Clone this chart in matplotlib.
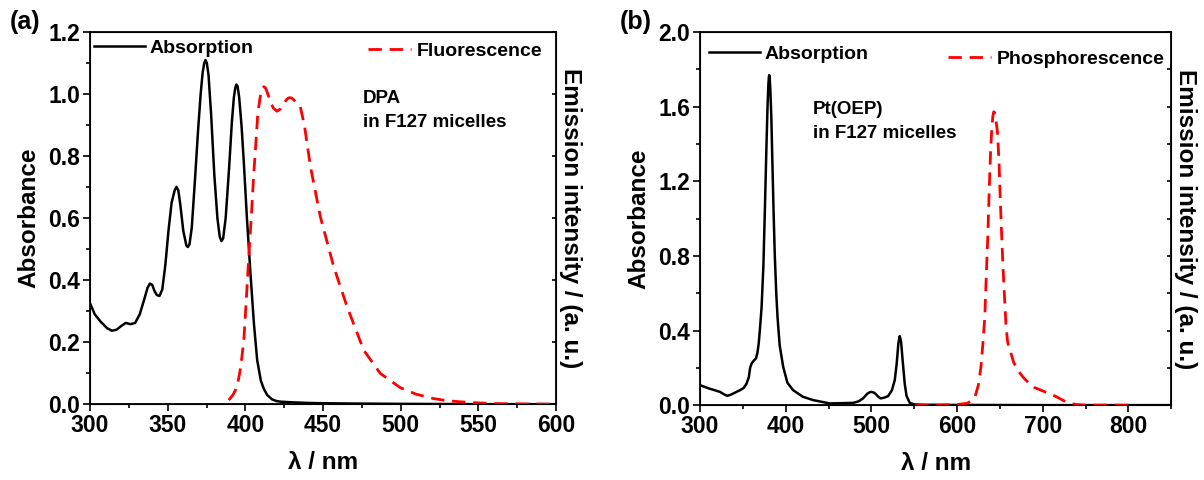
import matplotlib.pyplot as plt
from matplotlib.ticker import MultipleLocator

plt.rcParams['font.family'] = ['Liberation Sans', 'DejaVu Sans']
plt.rcParams['font.weight'] = 'bold'

# (a) DPA absorption
dpa_abs_x = [300, 303, 307, 311, 314, 317, 320, 323, 326, 329, 332, 335, 337, 338.5, 340,
             341.5, 343, 344.7, 346.5, 348.5, 350.5, 352.5, 354.5, 355.6, 356.8, 358.2,
             360, 362, 362.9, 364, 365.5, 367.5, 369.5, 371.2, 372.5, 373.5, 374.3, 375.2,
             376.3, 378, 380, 382, 383.5, 384.6, 385.7, 387.3, 389.5, 391.3, 392.6, 393.5,
             394.2, 395, 396, 397.5, 399, 401, 403.3, 405.5, 407.6, 410, 412, 414, 417, 420,
             422.6, 430, 440, 450, 470, 500, 550, 600]
dpa_abs_y = [0.325, 0.29, 0.265, 0.245, 0.237, 0.24, 0.252, 0.262, 0.258, 0.262, 0.29,
             0.34, 0.375, 0.389, 0.385, 0.365, 0.352, 0.349, 0.37, 0.45, 0.56, 0.65, 0.69,
             0.701, 0.69, 0.64, 0.56, 0.512, 0.507, 0.515, 0.57, 0.72, 0.88, 1.0, 1.07,
             1.1, 1.11, 1.1, 1.06, 0.93, 0.74, 0.6, 0.54, 0.526, 0.535, 0.6, 0.76, 0.91,
             0.99, 1.02, 1.031, 1.025, 0.99, 0.9, 0.78, 0.6, 0.42, 0.26, 0.142, 0.075,
             0.048, 0.03, 0.016, 0.01, 0.008, 0.006, 0.004, 0.003, 0.002, 0.001, 0.0, 0.0]
# (a) DPA fluorescence
dpa_em_x = [389.3, 392, 394.7, 397, 399, 400.5, 402.2, 404, 405.4, 407, 408, 409.5, 410.8,
            411.8, 413, 414.5, 416.1, 418, 420.4, 422.5, 425, 427, 428.5, 430, 431.5, 433,
            435.4, 438, 441.9, 448.3, 456.9, 465.5, 476.2, 486.9, 499.8, 510, 521.2, 530,
            540, 550, 560, 575, 600]
dpa_em_y = [0.013, 0.03, 0.056, 0.12, 0.206, 0.33, 0.475, 0.62, 0.744, 0.86, 0.938, 0.99,
            1.015, 1.024, 1.02, 1.0, 0.975, 0.955, 0.945, 0.952, 0.972, 0.985, 0.989, 0.987,
            0.98, 0.972, 0.959, 0.9, 0.766, 0.604, 0.443, 0.314, 0.174, 0.099, 0.053, 0.032,
            0.018, 0.011, 0.007, 0.004, 0.002, 0.001, 0.0]

# (b) Pt(OEP) absorption
pt_abs_x = [300, 310, 323.3, 328, 331.8, 336, 340, 346.6, 351, 354.4, 357, 358.5, 360.3,
            363, 365.3, 367, 368.5, 370, 371.9, 374, 375.8, 377.5, 378.8, 379.8, 380.4,
            380.8, 381.3, 382, 383.2, 384.5, 385.8, 387.3, 389, 390.5, 393, 397.1, 402,
            408.7, 420, 432, 451.5, 478.7, 485, 490.3, 495, 498, 500.1, 502.5, 505, 508,
            510.6, 513, 515, 519.5, 524, 527.3, 529.5, 531.5, 533.1, 534.7, 536.5, 538.9,
            541, 544.8, 550, 560, 600, 700, 850]
pt_abs_y = [0.107, 0.09, 0.071, 0.058, 0.05, 0.056, 0.065, 0.08, 0.092, 0.116, 0.15, 0.2,
            0.224, 0.24, 0.25, 0.28, 0.33, 0.41, 0.527, 0.75, 1.063, 1.38, 1.6, 1.72, 1.76,
            1.77, 1.76, 1.7, 1.55, 1.3, 1.05, 0.8, 0.6, 0.47, 0.32, 0.205, 0.12, 0.08, 0.045,
            0.027, 0.009, 0.012, 0.02, 0.036, 0.06, 0.069, 0.071, 0.068, 0.06, 0.045, 0.036,
            0.038, 0.04, 0.048, 0.08, 0.134, 0.22, 0.33, 0.37, 0.34, 0.24, 0.116, 0.05,
            0.012, 0.004, 0.002, 0.001, 0.0, 0.0]
# (b) Pt(OEP) phosphorescence
pt_em_x = [551, 580, 600, 612, 617, 621, 625, 627.9, 630, 632.4, 634, 636, 637.5, 639.2,
           640.5, 641.8, 642.8, 643.8, 645, 646.2, 647.3, 649, 650.5, 652, 653.6, 655.5,
           657.2, 659, 661, 663, 666, 670.8, 677, 684.3, 690, 697.9, 706, 715.9, 724,
           731.7, 740, 750, 800]
pt_em_y = [0.0, 0.0, 0.003, 0.01, 0.025, 0.045, 0.11, 0.205, 0.32, 0.473, 0.68, 0.92, 1.15,
           1.367, 1.48, 1.55, 1.573, 1.57, 1.54, 1.5, 1.457, 1.3, 1.099, 0.92, 0.742, 0.57,
           0.42, 0.34, 0.3, 0.277, 0.23, 0.188, 0.15, 0.116, 0.095, 0.08, 0.065, 0.045,
           0.025, 0.009, 0.003, 0.0, 0.0]

fig = plt.figure(figsize=(12.04, 4.8), dpi=100)
ax1 = fig.add_axes([0.0748, 0.158, 0.387, 0.775])
ax2 = fig.add_axes([0.5814, 0.156, 0.3914, 0.777])

# axis, data, emission name, limits, tick steps, note, legend anchors, panel tag
panels = [
    (ax1, dpa_abs_x, dpa_abs_y, dpa_em_x, dpa_em_y, 'Fluorescence', (300, 600), (0, 1.2),
     50, 25, 0.2, 0.1, 'DPA\nin F127 micelles', (0.585, 0.845),
     (0.005, 0.985), (0.975, 0.977), (0.008, 0.955), '(a)'),
    (ax2, pt_abs_x, pt_abs_y, pt_em_x, pt_em_y, 'Phosphorescence', (300, 850), (0, 2.0),
     100, 50, 0.4, 0.2, 'Pt(OEP)\nin F127 micelles', (0.24, 0.815),
     (0.015, 0.97), (0.99, 0.957), (0.515, 0.955), '(b)'),
]

for (ax, ax_x, ax_y, ex, ey, em_name, xlim, ylim, xmaj, xmin, ymaj, ymin,
     note, note_pos, leg1, leg2, tag_pos, tag) in panels:
    ax.plot(ax_x, ax_y, color='black', lw=1.8, label='Absorption')
    ax.set_xlim(*xlim)
    ax.set_ylim(*ylim)
    ax.xaxis.set_major_locator(MultipleLocator(xmaj))
    ax.xaxis.set_minor_locator(MultipleLocator(xmin))
    ax.yaxis.set_major_locator(MultipleLocator(ymaj))
    ax.yaxis.set_minor_locator(MultipleLocator(ymin))
    ax.yaxis.set_major_formatter(plt.FormatStrFormatter('%.1f'))
    ax.tick_params(which='both', direction='out', width=1.2, labelsize=16.5, top=False,
                   pad=2)
    ax.tick_params(which='major', length=5)
    ax.tick_params(which='minor', length=3)
    for s in ax.spines.values():
        s.set_linewidth(1.3)
    ax.set_xlabel('λ / nm', fontsize=17.5, fontweight='bold', labelpad=10)
    ax.set_ylabel('Absorbance', fontsize=17.5, fontweight='bold', labelpad=6)
    ax.legend(loc='upper left', bbox_to_anchor=leg1, frameon=False, handlelength=2.6,
              handletextpad=0.25, borderaxespad=0, borderpad=0.1,
              prop={'weight': 'bold', 'size': 14})

    tw = ax.twinx()
    tw.plot(ex, ey, color='red', lw=2.0, ls=(0, (4.8, 2.8)), label=em_name)
    tw.set_ylim(*ylim)
    tw.yaxis.set_major_locator(MultipleLocator(0.2))
    tw.set_yticklabels([])
    tw.tick_params(axis='y', direction='in', length=3, width=1.2)
    tw.set_ylabel('Emission intensity / (a. u.)', fontsize=17.5, fontweight='bold',
                  rotation=270, labelpad=15)
    tw.legend(loc='upper right', bbox_to_anchor=leg2, frameon=False, handlelength=2.2,
              handletextpad=0.3, borderaxespad=0, borderpad=0.1,
              prop={'weight': 'bold', 'size': 14})

    ax.text(note_pos[0], note_pos[1], note, transform=ax.transAxes, fontsize=13.5,
            fontweight='bold', va='top', linespacing=1.55)
    fig.text(tag_pos[0], tag_pos[1], tag, fontsize=18, fontweight='bold', va='center')

fig.savefig('out.png', dpi=100)
